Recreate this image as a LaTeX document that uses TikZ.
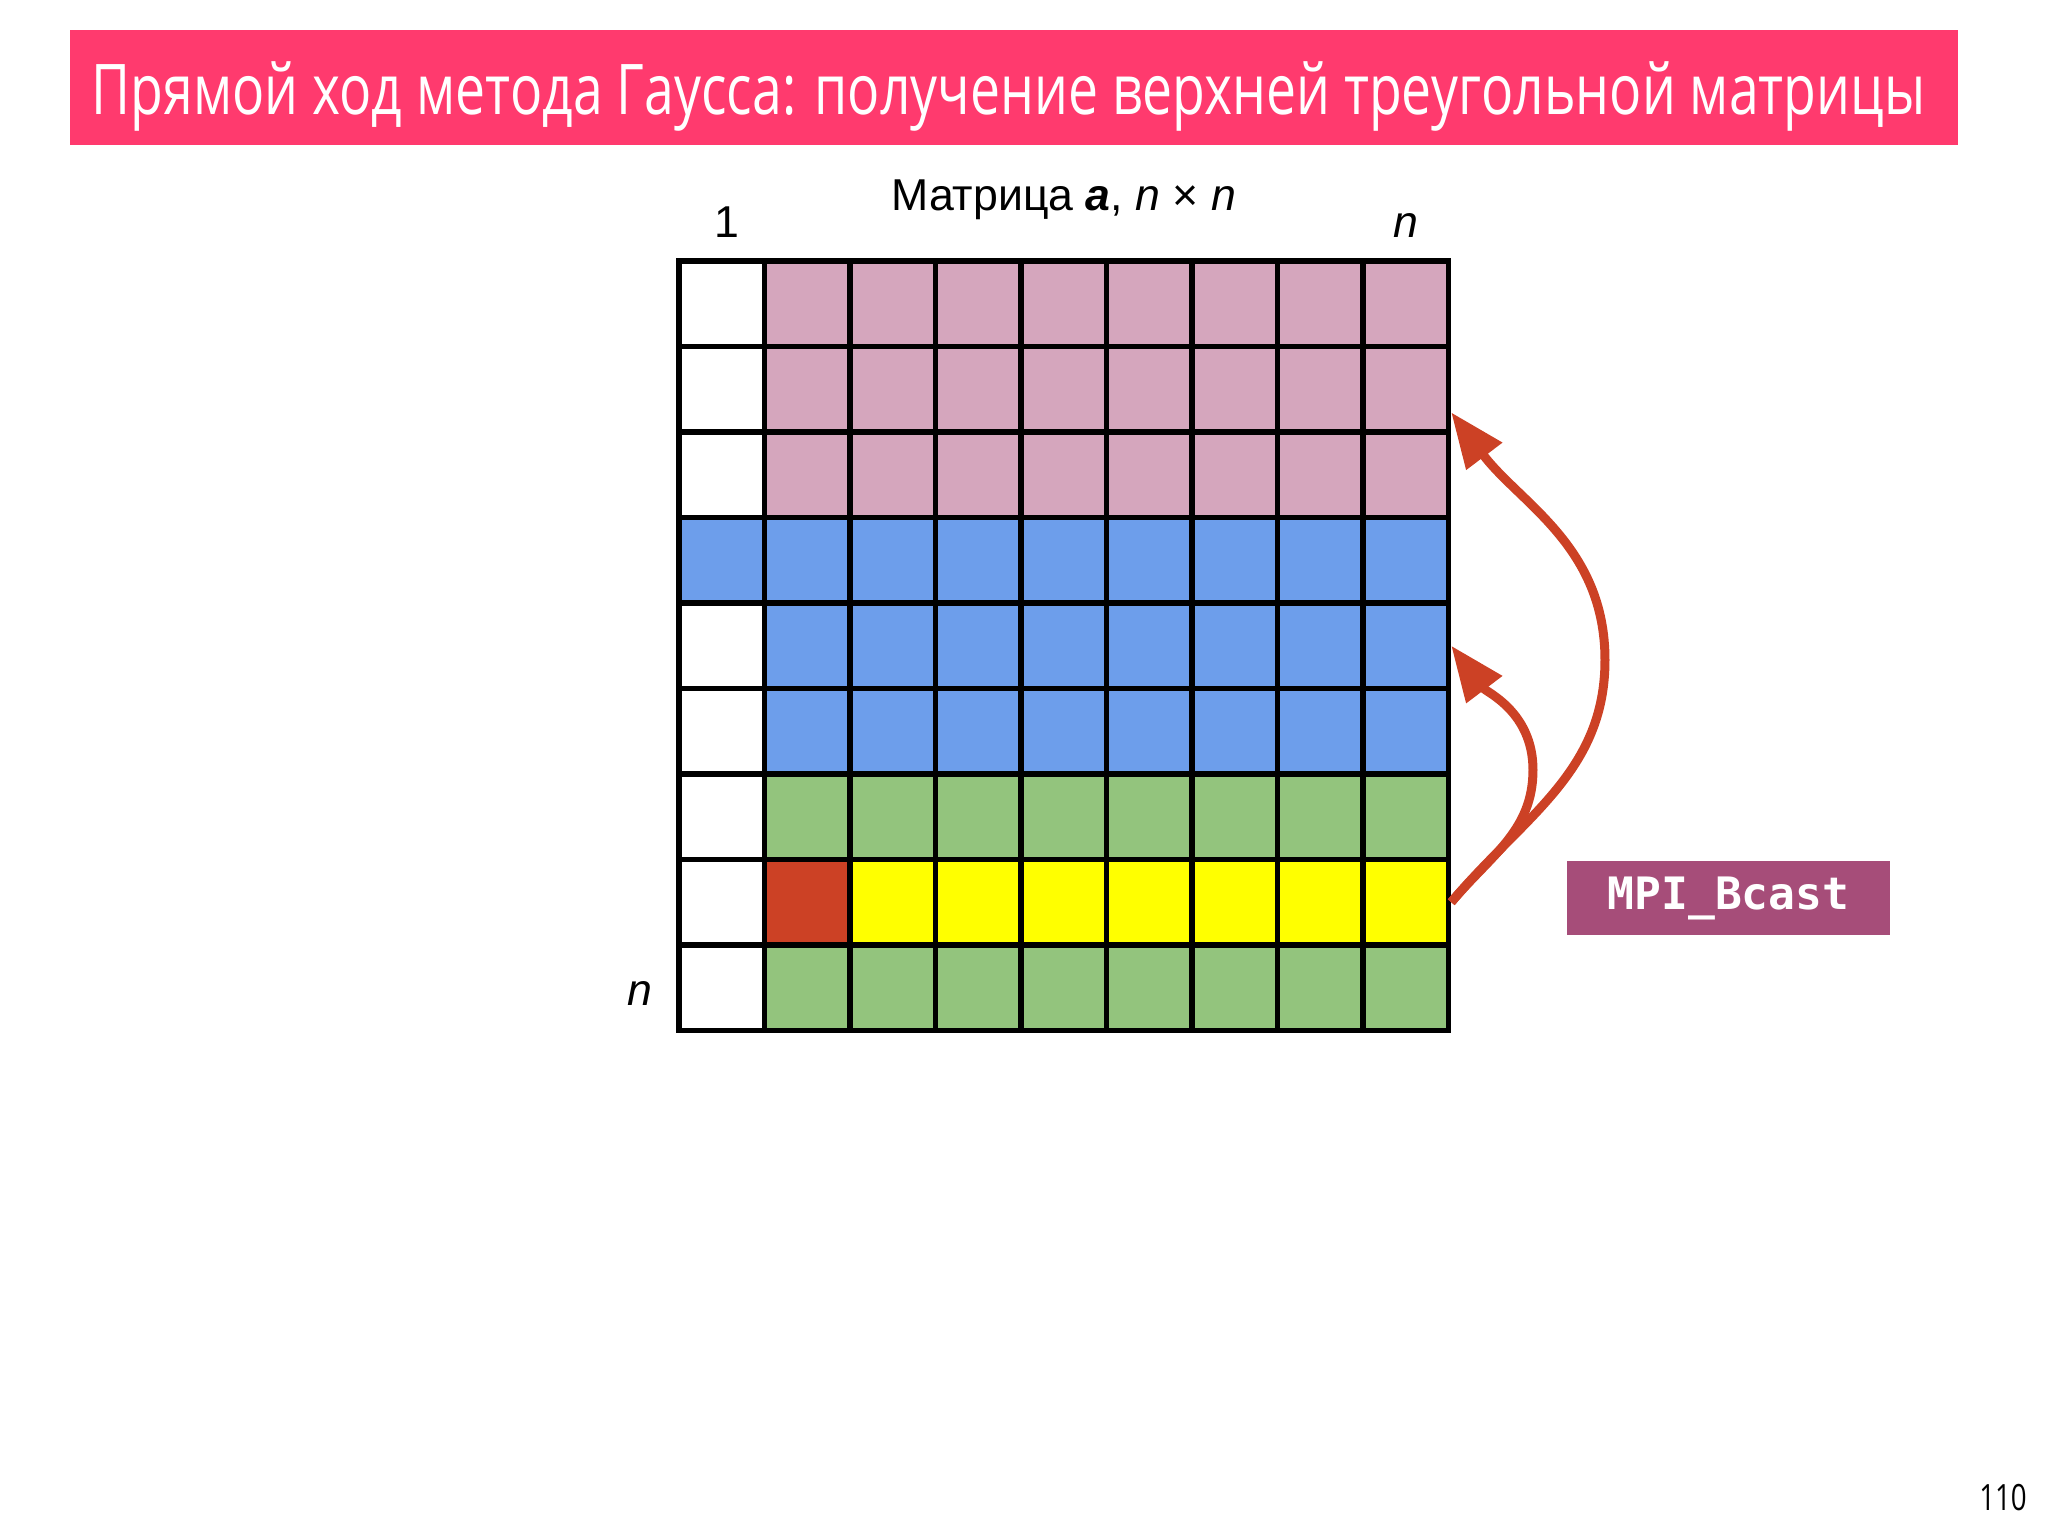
\documentclass[tikz,border=0pt]{standalone}
\usepackage{fontspec}
\setmainfont{Liberation Sans}
\setmonofont{DejaVu Sans Mono}
\newfontfamily\headfont[FakeStretch=0.765]{Open Sans}
\usetikzlibrary{arrows.meta,calc}

\definecolor{slidepink}{HTML}{FF3A6E}
\definecolor{mauve}{HTML}{D5A6BD}
\definecolor{cornflower}{HTML}{6D9EEB}
\definecolor{leaf}{HTML}{93C47D}
\definecolor{lemon}{HTML}{FFFF00}
\definecolor{brick}{HTML}{CC4125}
\definecolor{plum}{HTML}{A64D79}

\begin{document}
\begin{tikzpicture}[
        cell/.style={draw, line width=0.055cm, minimum size=0.855cm, inner sep=0pt},
        axislabel/.style={font=\fontsize{12.7}{15}\selectfont, inner sep=0pt}
    ]
        \useasboundingbox (0,0) rectangle (20.48,15.36);

        % title bar
        \node[fill=slidepink, minimum width=18.88cm, minimum height=1.15cm, inner sep=0pt, anchor=north west] (header) at (0.69,15.07) {};
        \node[font=\headfont\fontsize{19.9}{24}\selectfont, text=white, anchor=base west, inner sep=0pt] (title) at (0.91,14.21) {Прямой ход метода Гаусса: получение верхней треугольной матрицы};

        % matrix a, one row after another
        \foreach \r/\rc in {1/mauve,2/mauve,3/mauve,4/cornflower,5/cornflower,6/cornflower,7/leaf,8/lemon,9/leaf} {
            \foreach \c in {1,...,9} {
                \ifnum\c=1 \def\fc{white}\else\def\fc{\rc}\fi
                \ifnum\r=4 \def\fc{\rc}\fi
                \ifnum\r\c=82 \def\fc{brick}\fi
                \node[cell, fill=\fc] (c-\r-\c) at ({6.79+(\c-0.5)*0.855},{12.75-(\r-0.5)*0.855}) {};
            }
        }

        \node[axislabel, anchor=base] (caption) at ($(c-1-5.north)+(0,0.48)$) {Матрица \textbf{\textit{a}}, \textit{n} × \textit{n}};
        \node[axislabel, anchor=base] (colfirst) at ($(c-1-1.north)+(0.05,0.21)$) {1};
        \node[axislabel, anchor=base] (collast) at ($(c-1-9.north)+(0,0.21)$) {\textit{n}};
        \node[axislabel, anchor=base] (rowlast) at ($(c-9-1.west)+(-0.36,-0.18)$) {\textit{n}};

        \node[fill=plum, text=white, font=\ttfamily\bfseries\fontsize{12.7}{15}\selectfont, minimum width=3.23cm, minimum height=0.74cm, inner sep=0pt] (bcast) at (17.285,6.38) {MPI\_Bcast};

        \begin{scope}[draw=brick, line width=0.09cm, -{Triangle[length=0.55cm, width=0.43cm]}]
            \coordinate (bendhigh) at (16.05,8.76);
            \coordinate (bendlow) at (15.33,7.66);
            \draw (c-8-9.east) to[out=50, in=-90] (bendhigh) to[out=90, in=-53] (c-2-9.-27);
            \draw (c-8-9.east) to[out=50, in=-90] (bendlow) to[out=90, in=-53] (c-5-9.east);
        \end{scope}

        \node[font=\headfont\fontsize{10.3}{12}\selectfont, inner sep=0pt] (pageno) at (20.03,0.38) {110};
    \end{tikzpicture}
\end{document}
